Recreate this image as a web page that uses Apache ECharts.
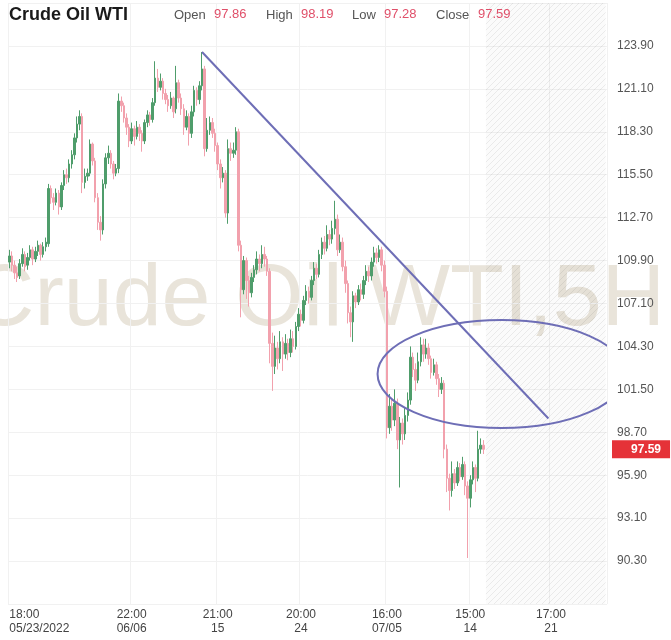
<!DOCTYPE html>
<html>
<head>
<meta charset="utf-8">
<script src="https://cdn.jsdelivr.net/npm/echarts@6/dist/echarts.min.js"></script>
<style>
html,body{margin:0;padding:0;background:#fff;}
#chart{width:671px;height:640px;}
</style>
</head>
<body>
<div id="chart"></div>
<script>
// ---- DATA ----
const opens = [
109.8,110.2,109.6,109.1,108.9,109.7,110.3,109.6,110.1,110.6,
110.0,110.5,110.9,110.3,110.8,111.0,114.6,114.0,113.7,114.3,
113.4,114.8,115.5,115.3,116.2,116.8,117.9,118.8,119.3,115.0,
115.4,115.6,117.5,116.4,114.0,112.4,111.9,114.9,116.6,116.9,
116.2,115.6,115.9,120.3,120.0,119.2,118.6,117.7,118.5,118.0,
118.6,118.2,117.7,118.9,119.4,119.1,120.2,121.8,121.2,121.6,
120.8,120.4,120.0,120.5,119.8,121.5,120.5,119.8,118.6,119.3,
118.2,119.6,121.0,120.4,121.3,122.4,117.2,118.4,118.9,118.2,
117.4,116.2,115.3,115.6,113.0,117.2,116.9,117.1,118.3,110.9,
108.0,109.9,108.6,107.8,108.8,109.3,110.0,109.7,110.3,110.0,
109.2,104.5,103.0,104.2,103.5,104.6,103.8,104.5,103.9,104.8,
104.3,105.6,106.4,106.0,107.3,107.9,107.5,108.6,109.4,109.0,
110.3,111.1,110.7,111.6,111.3,112.0,112.6,110.6,111.1,109.5,
108.4,106.5,105.9,107.6,107.2,108.0,107.7,108.6,109.2,108.9,
109.8,110.4,110.1,110.6,109.6,107.9,99.0,100.4,99.5,100.6,
98.2,99.3,98.6,99.8,100.8,103.6,102.8,102.1,103.3,104.4,
103.8,104.2,103.5,102.6,103.1,102.2,101.5,101.9,97.6,95.7,
94.9,96.0,95.4,96.4,95.8,96.6,95.2,94.4,95.6,96.4,95.7,97.6,97.86
];
const closes = [
110.2,109.6,109.1,108.8,109.7,110.3,109.5,110.1,110.6,110.0,
110.5,110.9,110.3,110.8,111.1,114.6,114.0,113.7,114.3,113.4,
114.8,115.5,115.3,116.2,116.8,117.9,118.8,119.3,115.0,115.4,
115.6,117.5,116.4,114.0,112.4,111.9,114.9,116.6,116.9,116.2,
115.6,115.9,120.3,120.0,119.2,118.6,117.7,118.5,118.0,118.6,
118.2,117.7,118.9,119.4,119.1,120.2,121.8,121.2,121.6,120.8,
120.4,120.0,120.5,119.6,121.5,120.5,119.8,118.6,119.3,118.2,
119.6,121.0,120.4,121.3,122.4,117.2,118.4,118.9,118.2,117.4,
116.2,115.3,115.6,113.0,117.2,116.9,117.1,118.3,110.9,108.0,
109.9,108.6,107.8,108.8,109.3,110.0,109.7,110.3,110.0,109.2,
104.5,103.0,104.2,103.5,104.6,103.8,104.5,103.9,104.8,104.3,
105.6,106.4,106.0,107.3,107.9,107.5,108.6,109.4,109.0,110.3,
111.1,110.7,111.6,111.3,112.0,112.6,110.6,111.1,109.5,108.4,
106.5,105.9,107.6,107.2,108.0,107.7,108.6,109.2,108.9,109.8,
110.4,110.1,110.6,109.6,107.9,99.0,100.4,99.5,100.6,98.2,
99.3,98.6,99.8,100.8,103.6,102.8,102.1,103.3,104.4,103.8,
104.2,103.5,102.6,103.1,102.2,101.5,101.9,97.6,95.7,94.9,
96.0,95.4,96.4,95.8,96.6,95.2,94.4,95.6,96.4,95.7,97.6,97.86,97.59
];
const lows = [
109.4,109.2,108.7,108.5,108.7,109.5,109.2,109.3,109.9,109.6,
109.8,110.2,109.9,110.1,110.5,110.8,113.6,113.2,113.5,112.9,
113.2,114.5,114.9,115.0,115.9,116.5,117.6,118.4,114.3,114.6,
115.1,115.4,116.1,113.7,111.9,111.2,111.6,114.6,116.2,115.9,
115.2,115.4,115.6,119.6,118.9,118.1,117.3,117.5,117.4,117.8,
117.7,117.0,117.5,118.6,118.7,118.9,120.0,120.9,121.0,120.4,
120.1,119.6,119.8,119.2,119.5,120.2,119.4,118.1,118.4,117.4,
117.9,119.3,120.0,120.1,121.0,116.7,117.0,118.1,117.9,117.0,
115.8,114.6,115.0,112.7,112.3,116.4,116.6,116.8,110.5,106.2,
107.7,107.4,106.9,107.5,108.5,109.0,109.2,109.4,109.5,108.9,
103.2,101.4,102.5,102.8,103.2,102.7,103.5,103.4,103.6,103.9,
104.1,105.3,105.6,105.8,107.0,107.1,107.3,108.3,108.7,108.8,
110.0,110.3,110.5,110.9,111.0,111.6,110.2,110.4,109.2,107.8,
105.8,104.9,104.6,106.8,107.0,107.3,107.4,108.3,108.5,108.6,
109.5,109.7,109.8,109.2,107.5,98.3,98.6,98.8,99.1,97.6,
95.1,97.9,98.2,99.4,100.5,102.3,101.4,101.9,103.0,103.3,
103.5,103.1,102.2,102.4,101.8,101.0,101.2,97.0,94.8,93.6,
94.5,95.0,95.2,95.5,95.6,94.6,90.5,93.8,95.3,94.8,95.5,97.3,97.28
];
const highs = [
110.6,110.5,109.9,109.5,110.0,110.7,110.5,110.4,110.9,110.8,
110.8,111.2,111.0,111.1,111.4,114.9,114.8,114.3,114.6,114.5,
115.0,115.8,115.9,116.5,117.1,118.2,119.3,119.7,119.5,115.9,
115.9,117.8,117.6,116.6,114.3,112.8,115.2,116.9,117.4,117.1,
116.4,116.2,120.8,120.6,120.2,119.5,118.8,118.9,118.7,119.0,
118.8,118.4,119.1,119.7,119.6,120.5,122.9,122.4,122.1,121.8,
121.1,120.7,120.9,120.6,122.6,121.7,120.8,120.1,119.7,119.5,
120.0,121.3,121.2,121.6,123.5,122.6,119.2,119.3,119.2,118.5,
117.6,116.5,116.0,115.8,117.8,117.6,117.6,118.6,118.5,111.2,
110.2,110.1,108.9,109.1,109.6,110.5,110.3,110.9,110.8,110.2,
109.4,105.2,105.0,104.6,105.3,104.9,105.1,104.8,105.4,105.3,
105.9,106.8,106.7,107.6,108.3,108.2,108.9,109.8,109.7,110.6,
111.4,111.5,112.2,111.9,112.5,113.8,112.9,111.6,111.4,109.9,
108.6,106.9,107.9,107.8,108.3,108.4,108.9,109.6,109.5,110.1,
110.8,110.7,110.9,110.8,109.9,108.2,101.2,100.8,101.5,100.9,
99.7,99.6,100.3,101.3,104.3,103.9,103.2,103.9,104.9,104.8,
104.8,104.5,103.7,103.5,103.3,102.5,102.3,102.1,97.9,96.0,
96.8,96.3,96.8,96.7,97.1,96.8,95.5,95.9,96.8,96.6,98.8,98.3,98.19
];
const slotCount = 230;                 // bar slots incl. future (hatched) area
const tickIndices = [0, 47, 80, 112, 145, 177, 208];
const tickLabels = ['18:00\n05/23/2022', '22:00\n06/06', '21:00\n15', '20:00\n24', '16:00\n07/05', '15:00\n14', '17:00\n21'];
const futureStart = 183;
const lastQuote = {open: '97.86', high: '98.19', low: '97.28', close: '97.59', price: 97.59};
const trendLine = [['c74', 123.5], ['c207', 99.6]];
const ellipse = [[189, 102.5, 47.6, 3.52]]; // center slot, center price, x-radius (slots), y-radius (price)

// ---- BUILD ----
const categories = [];
for (let i = 0; i < slotCount; i++) {
  categories.push(i === 0 ? {value: 'c0', textStyle: {align: 'left'}} : 'c' + i);
}
const candles = opens.map((o, i) => [o, closes[i], lows[i], highs[i]]);

// hatch pattern (semi-transparent so the watermark shows through)
const pat = document.createElement('canvas');
pat.width = 6; pat.height = 6;
const pctx = pat.getContext('2d');
pctx.fillStyle = 'rgba(0,0,0,0.015)'; pctx.fillRect(0, 0, 6, 6);
pctx.strokeStyle = 'rgba(0,0,0,0.07)'; pctx.lineWidth = 1;
pctx.beginPath(); pctx.moveTo(0, 6); pctx.lineTo(6, 0); pctx.stroke();

const chart = echarts.init(document.getElementById('chart'), null, {renderer: 'canvas'});
const font = 'Liberation Sans, Arial, sans-serif';
const isTick = (idx) => tickIndices.indexOf(idx) >= 0;

chart.setOption({
  animation: false,
  backgroundColor: '#ffffff',
  textStyle: {fontFamily: font},
  grid: {left: 8, right: 64, top: 3, bottom: 36},
  xAxis: {
    type: 'category',
    data: categories,
    boundaryGap: true,
    axisLine: {show: false},
    axisTick: {show: false},
    axisLabel: {
      interval: (idx) => isTick(idx),
      formatter: (v, idx) => tickLabels[tickIndices.indexOf(idx)],
      color: '#444', fontSize: 12, lineHeight: 14, margin: 4, fontFamily: font
    },
    splitLine: {show: true, interval: (idx) => isTick(idx), lineStyle: {color: '#f1f1f1', width: 1}}
  },
  yAxis: {
    type: 'value',
    position: 'right',
    min: 87.5, max: 126.7, interval: 2.8,
    axisLine: {show: false},
    axisTick: {show: false},
    axisLabel: {
      showMinLabel: false, showMaxLabel: false,
      formatter: (v) => v.toFixed(2),
      color: '#555', fontSize: 12, margin: 10, fontFamily: font
    },
    splitLine: {show: true, lineStyle: {color: '#f1f1f1', width: 1}}
  },
  graphic: {
    elements: [
      {type: 'text', z: 0, x: 318, y: 301, silent: true,
       style: {text: 'Crude Oil WTI,5H', font: 'normal 88px ' + font, fill: '#e9e4da', textAlign: 'center', textVerticalAlign: 'middle'}},
      {type: 'text', z: 10, x: 9, y: 15, style: {text: 'Crude Oil WTI', font: 'bold 18px ' + font, fill: '#1a1a1a', textVerticalAlign: 'middle'}},
      {type: 'text', z: 10, x: 174, y: 15, style: {text: 'Open', font: '13px ' + font, fill: '#555', textVerticalAlign: 'middle'}},
      {type: 'text', z: 10, x: 214, y: 14, style: {text: lastQuote.open, font: '13px ' + font, fill: '#e0506a', textVerticalAlign: 'middle'}},
      {type: 'text', z: 10, x: 266, y: 15, style: {text: 'High', font: '13px ' + font, fill: '#555', textVerticalAlign: 'middle'}},
      {type: 'text', z: 10, x: 301, y: 14, style: {text: lastQuote.high, font: '13px ' + font, fill: '#e0506a', textVerticalAlign: 'middle'}},
      {type: 'text', z: 10, x: 352, y: 15, style: {text: 'Low', font: '13px ' + font, fill: '#555', textVerticalAlign: 'middle'}},
      {type: 'text', z: 10, x: 384, y: 14, style: {text: lastQuote.low, font: '13px ' + font, fill: '#e0506a', textVerticalAlign: 'middle'}},
      {type: 'text', z: 10, x: 436, y: 15, style: {text: 'Close', font: '13px ' + font, fill: '#555', textVerticalAlign: 'middle'}},
      {type: 'text', z: 10, x: 478, y: 14, style: {text: lastQuote.close, font: '13px ' + font, fill: '#e0506a', textVerticalAlign: 'middle'}}
    ]
  },
  series: [
    {
      type: 'candlestick',
      data: candles,
      barWidth: 2,
      itemStyle: {color: '#4f9d6b', color0: '#f2a1ad', borderColor: '#4f9d6b', borderColor0: '#f2a1ad', borderWidth: 1},
      markArea: {
        silent: true,
        itemStyle: {color: {image: pat, repeat: 'repeat'}},
        data: [[{xAxis: 'c' + futureStart}, {xAxis: 'c' + (slotCount - 1)}]]
      },
      markLine: {
        silent: true,
        symbol: ['none', 'none'],
        animation: false,
        data: [
          [{coord: trendLine[0], lineStyle: {color: '#6e6eb6', width: 2, type: 'solid', opacity: 1}, label: {show: false}},
           {coord: trendLine[1]}],
          {yAxis: lastQuote.price, lineStyle: {color: 'rgba(0,0,0,0)', width: 1, opacity: 1},
           label: {show: true, position: 'end', distance: 5, formatter: lastQuote.close, opacity: 1,
                   backgroundColor: '#e53238', color: '#ffffff', fontWeight: 'bold', fontSize: 12,
                   padding: [3, 9, 3, 19], fontFamily: font}}
        ]
      }
    },
    {
      type: 'custom',
      clip: true,
      data: ellipse,
      renderItem: (params, api) => {
        const c = api.coord([api.value(0), api.value(1)]);
        const s = api.size([1, 1]);
        return {
          type: 'ellipse',
          shape: {cx: c[0], cy: c[1], rx: api.value(2) * s[0], ry: api.value(3) * s[1]},
          style: {fill: 'none', stroke: '#6e6eb6', lineWidth: 2}
        };
      },
      z: 5
    }
  ]
});
</script>
</body>
</html>
